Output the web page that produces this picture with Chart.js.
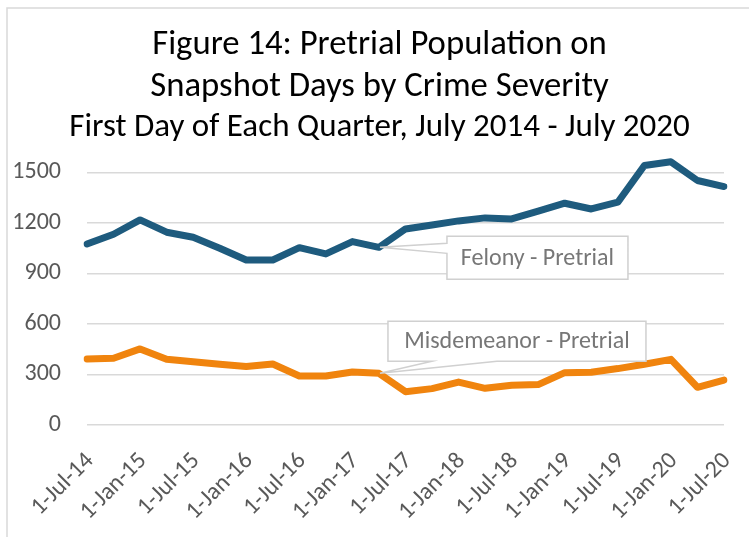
<!DOCTYPE html>
<html><head><meta charset="utf-8">
<script src="https://cdn.jsdelivr.net/npm/chart.js@4"></script>
<style>html,body{margin:0;padding:0;background:#fff}#wrap{width:749px;height:537px;position:relative}</style>
</head><body><div id="wrap"><canvas id="c" width="749" height="537"></canvas></div>
<script>
const categories = ['1-Jul-14','1-Oct-14','1-Jan-15','1-Apr-15','1-Jul-15','1-Oct-15','1-Jan-16','1-Apr-16',
  '1-Jul-16','1-Oct-16','1-Jan-17','1-Apr-17','1-Jul-17','1-Oct-17','1-Jan-18','1-Apr-18','1-Jul-18','1-Oct-18',
  '1-Jan-19','1-Apr-19','1-Jul-19','1-Oct-19','1-Jan-20','1-Apr-20','1-Jul-20'];
const felony = [1075,1133,1218,1145,1115,1050,980,980,1053,1016,1089,1055,1164,1188,1212,1230,1224,1270,1317,1283,1323,1541,1563,1452,1416];
const misdemeanor = [392,396,452,390,376,361,347,362,291,291,315,307,198,216,255,218,236,240,311,313,335,361,390,224,267];
const yTicks = [0,300,600,900,1200,1500];
const seriesNames = ['Felony - Pretrial','Misdemeanor - Pretrial'];
const titleLines = ['Figure 14: Pretrial Population on','Snapshot Days by Crime Severity'];
const subtitleText = 'First Day of Each Quarter, July 2014 - July 2020';

const FONT = "Carlito, Calibri, Lato, sans-serif";
const BLUE = '#1E5B7E', ORANGE = '#F0840E';

const framePlugin = {
  id: 'frame',
  beforeDraw(chart) {
    const ctx = chart.ctx;
    ctx.save();
    ctx.fillStyle = '#fff';
    ctx.fillRect(0, 0, chart.width, chart.height);
    ctx.strokeStyle = '#d9d9d9';
    ctx.lineWidth = 1.5;
    ctx.beginPath();
    ctx.moveTo(7, chart.height);
    ctx.lineTo(7, 8);
    ctx.lineTo(chart.width, 8);
    ctx.stroke();
    ctx.restore();
  }
};

const calloutPlugin = {
  id: 'callouts',
  afterDatasetsDraw(chart) {
    const ctx = chart.ctx;
    const xs = chart.scales.x, ys = chart.scales.y;
    const i = 11;
    const ax = xs.getPixelForValue(i);
    ctx.save();
    ctx.lineWidth = 1.5;
    ctx.strokeStyle = '#d0d0d0';
    ctx.fillStyle = '#fff';
    ctx.lineJoin = 'miter';
    // Felony
    const fy = ys.getPixelForValue(felony[i]);
    let L = ax + 68, R = ax + 249, T = fy - 11, B = fy + 32;
    ctx.beginPath();
    ctx.moveTo(L, T); ctx.lineTo(R, T); ctx.lineTo(R, B); ctx.lineTo(L, B);
    ctx.lineTo(L, T + 17); ctx.lineTo(ax + 1, fy); ctx.lineTo(L, T + 7); ctx.closePath();
    ctx.fill(); ctx.stroke();
    ctx.fillStyle = '#777';
    ctx.font = '24px ' + FONT;
    ctx.textAlign = 'center'; ctx.textBaseline = 'middle';
    ctx.fillText(seriesNames[0], (L + R) / 2, (T + B) / 2 + 1);
    // Misdemeanor
    const my = ys.getPixelForValue(misdemeanor[i]);
    L = ax + 9; R = ax + 267; T = my - 52; B = my - 12;
    ctx.fillStyle = '#fff';
    ctx.beginPath();
    ctx.moveTo(L, T); ctx.lineTo(R, T); ctx.lineTo(R, B); ctx.lineTo(ax + 118, B);
    ctx.lineTo(ax + 1, my); ctx.lineTo(ax + 53, B); ctx.lineTo(L, B); ctx.closePath();
    ctx.fill(); ctx.stroke();
    ctx.fillStyle = '#777';
    ctx.fillText(seriesNames[1], (L + R) / 2, (T + B) / 2 + 1);
    ctx.restore();
  }
};

new Chart(document.getElementById('c'), {
  type: 'line',
  data: {
    labels: categories,
    datasets: [
      { label: seriesNames[0], data: felony, borderColor: BLUE, backgroundColor: BLUE, borderWidth: 7,
        pointRadius: 0, tension: 0, borderJoinStyle: 'round', borderCapStyle: 'round' },
      { label: seriesNames[1], data: misdemeanor, borderColor: ORANGE, backgroundColor: ORANGE, borderWidth: 7,
        pointRadius: 0, tension: 0, borderJoinStyle: 'round', borderCapStyle: 'round' }
    ]
  },
  options: {
    responsive: false,
    animation: false,
    devicePixelRatio: 1,
    layout: { padding: { left: 10, right: 0, top: 0, bottom: 0 } },
    plugins: {
      legend: { display: false },
      tooltip: { enabled: false },
      title: { display: true, text: titleLines, color: '#000',
        font: { family: FONT, size: 34.7, weight: 'normal', lineHeight: 1.21 },
        padding: { top: 24, bottom: 0 } },
      subtitle: { display: true, text: subtitleText, color: '#000',
        font: { family: FONT, size: 33, weight: 'normal', lineHeight: 1.2 },
        padding: { top: 0, bottom: 8 } }
    },
    scales: {
      x: {
        offset: false,
        grid: { display: false },
        border: { display: false },
        ticks: {
          autoSkip: false, maxRotation: 45, minRotation: 45, padding: 14, labelOffset: 3,
          color: '#595959', font: { family: FONT, size: 24 },
          callback: (v, i) => (i % 2 === 0 ? categories[i] : '')
        },
        afterFit(s) { s.height = 112; s.paddingLeft = 0; s.paddingRight = 0; }
      },
      y: {
        min: 0, max: 1600,
        afterBuildTicks(s) { s.ticks = yTicks.map(v => ({ value: v })); },
        grid: { color: '#d9d9d9', lineWidth: 1.5, drawTicks: false },
        border: { display: false },
        ticks: { padding: 26, color: '#595959', font: { family: FONT, size: 24 }, callback: v => String(v) },
        afterFit(s) { s.width = 77; s.paddingTop = 0; s.paddingBottom = 0; }
      },
      yRight: {
        position: 'right',
        display: true,
        grid: { display: false, drawTicks: false },
        border: { display: false },
        ticks: { display: false },
        afterFit(s) { s.width = 25; }
      }
    }
  },
  plugins: [framePlugin, calloutPlugin]
});
</script>
</body></html>
